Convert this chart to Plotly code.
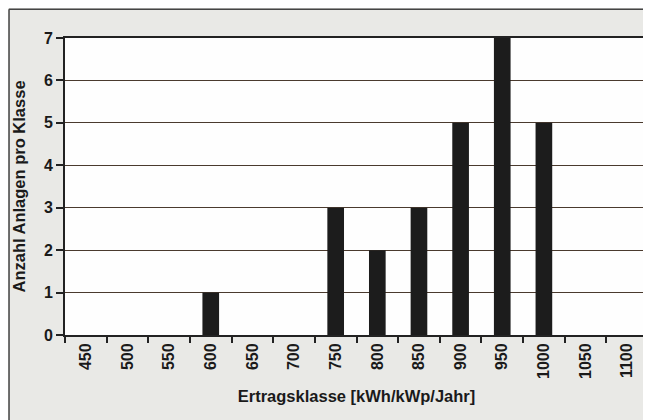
import plotly.graph_objects as go

categories = ["450", "500", "550", "600", "650", "700", "750", "800", "850", "900", "950", "1000", "1050", "1100"]
counts = [0, 0, 0, 1, 0, 0, 3, 2, 3, 5, 7, 5, 0, 0]
y_ticks = [0, 1, 2, 3, 4, 5, 6, 7]
x_title = "Ertragsklasse [kWh/kWp/Jahr]"
y_title = "Anzahl Anlagen pro Klasse"

tick_font = dict(family="Liberation Sans, Arial, sans-serif", size=16, color="#1a1a1a", weight="bold")
title_font = dict(family="Liberation Sans, Arial, sans-serif", size=16.5, color="#1a1a1a", weight="bold")

fig = go.Figure(go.Bar(x=categories, y=counts, marker=dict(color="#1c1c1c", line=dict(width=0))))

fig.update_layout(
    width=643, height=412,
    margin=dict(l=57, r=3, t=30, b=85, autoexpand=False),
    paper_bgcolor="#e9e9e6",
    plot_bgcolor="#fefefe",
    bargap=0.6,
    showlegend=False,
    font=tick_font,
)
fig.update_xaxes(
    type="category", tickangle=-90, tickfont=tick_font, automargin=False,
    ticks="outside", ticklen=6, tickwidth=1.5, tickcolor="#222", tickson="boundaries",
    showline=True, linecolor="#222", linewidth=2, mirror=True,
    title=dict(text=x_title, font=title_font, standoff=12),
    showgrid=False,
)
fig.update_yaxes(
    range=[0, 7], tickvals=y_ticks, tickfont=tick_font, automargin=False,
    ticks="outside", ticklen=7, tickwidth=1.5, tickcolor="#222",
    showline=True, linecolor="#222", linewidth=2, mirror=True,
    showgrid=True, gridcolor="#4a3a2e", gridwidth=1.3,
    zeroline=False,
    title=dict(text=y_title, font=title_font, standoff=14),
)
# outer frame lines (left and top)
fig.add_shape(type="line", xref="paper", yref="paper", x0=-0.0960, x1=1.02, y0=1.097, y1=1.097,
              line=dict(color="#444", width=1.5))
fig.add_shape(type="line", xref="paper", yref="paper", x0=-0.0960, x1=-0.0960, y0=-0.3, y1=1.097,
              line=dict(color="#444", width=1.5))

fig.write_html("out.html")
